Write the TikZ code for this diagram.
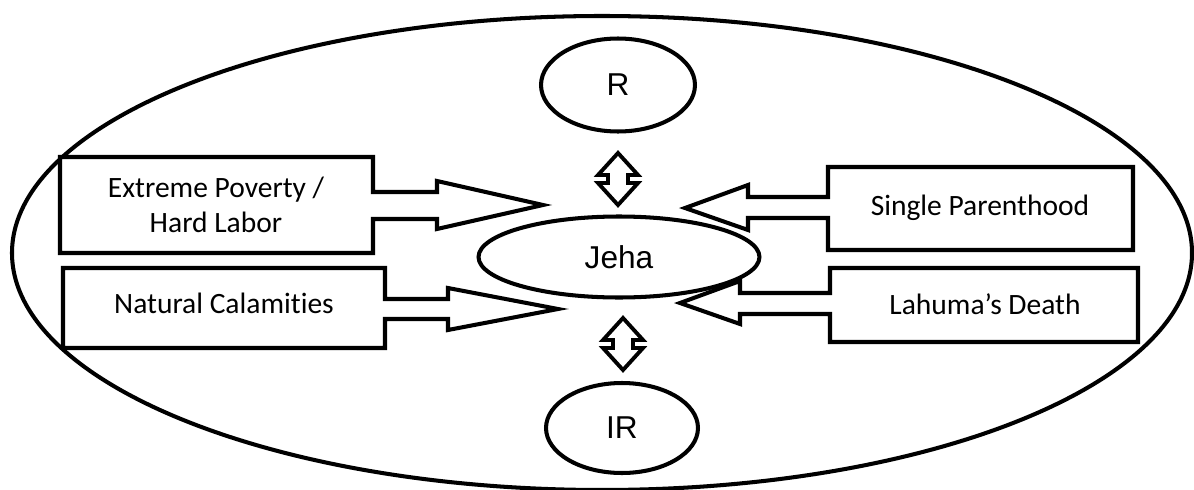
\documentclass[tikz,border=0pt]{standalone}
\usepackage{fontspec}
\setmainfont[Ligatures=NoCommon]{Carlito}
\newfontfamily\arialfont{Liberation Sans}
\usetikzlibrary{shapes.geometric}
\tikzset{
  callout/.style={draw,line width=2.3pt,fill=white,line join=miter},
  oval/.style={draw,ellipse,line width=2.3pt,fill=white,inner sep=0pt,font=\arialfont\fontsize{18}{21}\selectfont},
  boxtext/.style={align=center,font=\fontsize{16.8}{20}\selectfont},
  dblarrow/.style={draw,line width=2.2pt,fill=white,line join=miter}
}
\begin{document}
\begin{tikzpicture}[x=0.02cm,y=-0.02cm]
  \useasboundingbox (0,0) rectangle (1194,490);
  %grande ellisse
  \draw[line width=2.3pt] (602,253) ellipse (590 and 237);
  %riquadri a sinistra
  \draw[callout] (60,157) -- (373,157) -- (373,192) -- (437,192) -- (437,181) -- (543,205)
    -- (437,229) -- (437,219) -- (373,219) -- (373,253) -- (60,253) -- cycle;
  \node[boxtext] (poverty) at (216,205) {Extreme Poverty /\\Hard Labor};
  \draw[callout] (63,268) -- (385,268) -- (385,299) -- (448,299) -- (448,288) -- (558,309)
    -- (448,330) -- (448,319) -- (385,319) -- (385,348) -- (63,348) -- cycle;
  \node[boxtext] (calamities) at (224,303) {Natural Calamities};
  %riquadri a destra
  \draw[callout] (1133,167) -- (828,167) -- (828,197) -- (748,197) -- (748,185) -- (685,208)
    -- (748,230) -- (748,218) -- (828,218) -- (828,250) -- (1133,250) -- cycle;
  \node[boxtext] (parenthood) at (980,208) {Single Parenthood};
  \draw[callout] (1138,268) -- (830,268) -- (830,293) -- (740,293) -- (740,281) -- (680,303)
    -- (740,324) -- (740,314) -- (830,314) -- (830,342) -- (1138,342) -- cycle;
  \node[boxtext] (death) at (985,304) {Lahuma’s Death};
  %ellissi centrali
  \node[oval,minimum width=5.62cm,minimum height=1.62cm] (jeha) at (619,257) {Jeha};
  \node[oval,minimum width=3.08cm,minimum height=1.86cm] (r) at (618,85) {R};
  \node[oval,minimum width=3.04cm,minimum height=1.8cm] (ir) at (622,428) {IR};
  %frecce doppie
  \draw[dblarrow] (618,153) -- (638,175) -- (628,175) -- (628,183) -- (638,183) -- (618,205)
    -- (598,183) -- (608,183) -- (608,175) -- (598,175) -- cycle;
  \draw[dblarrow] (623,318) -- (643,340) -- (633,340) -- (633,348) -- (643,348) -- (623,370)
    -- (603,348) -- (613,348) -- (613,340) -- (603,340) -- cycle;
\end{tikzpicture}
\end{document}
